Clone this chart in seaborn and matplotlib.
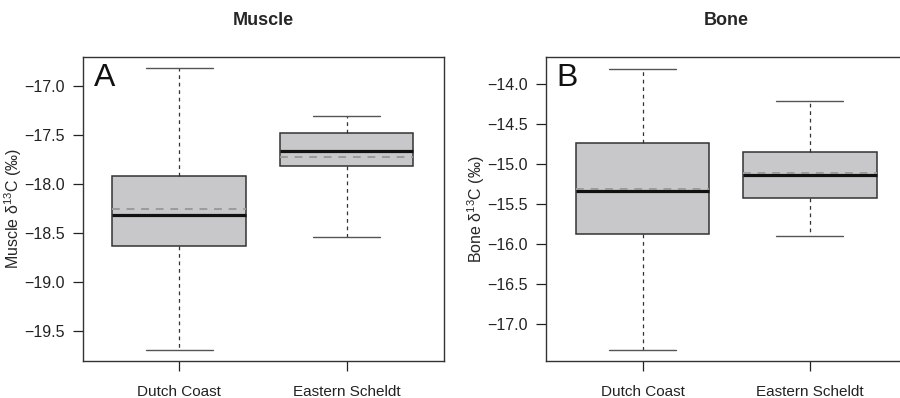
import numpy as np
import pandas as pd
import matplotlib
matplotlib.use("Agg")
import matplotlib.pyplot as plt
import seaborn as sns

sns.set_style("white")
plt.rcParams['font.family'] = ['Liberation Sans', 'DejaVu Sans']
plt.rcParams['mathtext.fontset'] = 'custom'
plt.rcParams['mathtext.rm'] = 'Liberation Sans'
plt.rcParams['mathtext.it'] = 'Liberation Sans:italic'

groups = ["Dutch Coast", "Eastern Scheldt"]

# Muscle δ13C summary (whisker low, Q1, median, Q3, whisker high, mean)
muscle_min = [-19.69, -18.54]
muscle_q1 = [-18.63, -17.82]
muscle_med = [-18.32, -17.66]
muscle_q3 = [-17.92, -17.48]
muscle_max = [-16.82, -17.31]
muscle_mean = [-18.26, -17.73]

# Bone δ13C summary
bone_min = [-17.32, -15.90]
bone_q1 = [-15.87, -15.42]
bone_med = [-15.33, -15.13]
bone_q3 = [-14.73, -14.85]
bone_max = [-13.81, -14.21]
bone_mean = [-15.31, -15.11]

muscle_ticks = [-19.5, -19.0, -18.5, -18.0, -17.5, -17.0]
bone_ticks = [-17.0, -16.5, -16.0, -15.5, -15.0, -14.5, -14.0]


def long_frame(mins, q1s, meds, q3s, maxs):
    rows = []
    for g, a, b, c, d, e in zip(groups, mins, q1s, meds, q3s, maxs):
        for v in (a, b, c, d, e):
            rows.append({"site": g, "value": v})
    return pd.DataFrame(rows)


fig = plt.figure(figsize=(9.0, 3.98), dpi=100)
ax1 = fig.add_axes([0.0919, 0.093, 0.401, 0.764])
ax2 = fig.add_axes([0.6067, 0.093, 0.401, 0.764])

panels = [
    (ax1, long_frame(muscle_min, muscle_q1, muscle_med, muscle_q3, muscle_max),
     muscle_mean, (-19.805, -16.705), muscle_ticks, "Muscle",
     "Muscle δ$^{13}$C (‰)", "A"),
    (ax2, long_frame(bone_min, bone_q1, bone_med, bone_q3, bone_max),
     bone_mean, (-17.46, -13.66), bone_ticks, "Bone",
     "Bone δ$^{13}$C (‰)", "B"),
]

edge = "#333333"
for ax, df, means, ylim, ticks, title, ylabel, letter in panels:
    sns.boxplot(data=df, x="site", y="value", order=groups, ax=ax,
                whis=np.inf, width=0.8, saturation=1, color="#c8c8ca",
                linecolor=edge, linewidth=1.1,
                medianprops=dict(color="#111111", linewidth=2.3),
                whiskerprops=dict(color=edge, linestyle=(0, (3, 3)), linewidth=0.9),
                capprops=dict(color="#555555", linewidth=1.0))
    ax.hlines(means, np.arange(len(groups)) - 0.4, np.arange(len(groups)) + 0.4,
              colors="#9a9a9a", linestyles=(0, (4, 3.5)), linewidth=1.4, zorder=5)
    ax.set_xlim(-0.577, 1.58)
    ax.set_ylim(*ylim)
    ax.set_yticks(ticks)
    ax.set_xlabel("")
    ax.set_ylabel(ylabel, fontsize=11.5, labelpad=0)
    ax.set_title(title, fontsize=13, fontweight="bold", pad=23)
    ax.text(0.03, 0.98, letter, transform=ax.transAxes, fontsize=23,
            ha="left", va="top", color="#111111")
    ax.tick_params(axis="both", direction="out", length=7, width=0.9,
                   labelsize=11.5, colors="#222222", left=True, bottom=True)
    ax.tick_params(axis="x", pad=10.5, labelsize=11)
    ax.tick_params(axis="y", pad=6)
    for s in ax.spines.values():
        s.set_visible(True)
        s.set_color("#333333")
        s.set_linewidth(1.0)

fig.savefig("out.png", dpi=100)
